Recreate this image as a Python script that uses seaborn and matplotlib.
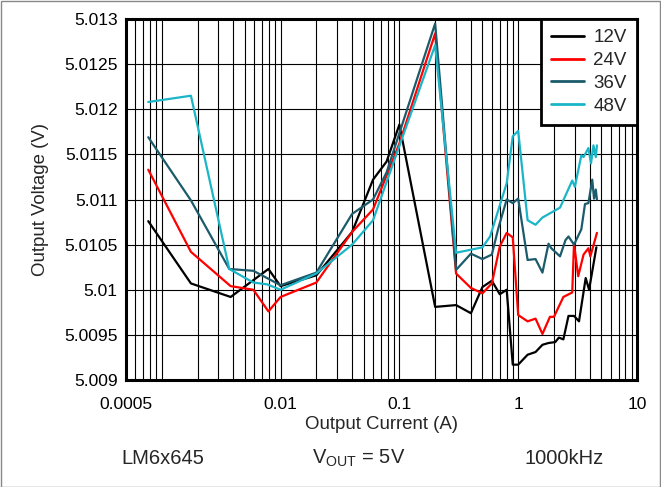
import pandas as pd
import matplotlib
matplotlib.use("Agg")
import matplotlib.pyplot as plt
import seaborn as sns
from matplotlib.ticker import FixedLocator, FuncFormatter, NullFormatter
from matplotlib.patches import Rectangle

# data (output current A, output voltage V)
x12 = [0.00077, 0.00176, 0.0038, 0.0079, 0.01, 0.02, 0.04, 0.06, 0.078, 0.1, 0.2, 0.3, 0.4, 0.5, 0.6, 0.7,
       0.8, 0.9, 1.0, 1.2, 1.4, 1.6, 1.8, 2.05, 2.2, 2.4, 2.65, 2.95, 3.25, 3.7, 3.95, 4.55]
v12 = [5.01076, 5.01007, 5.00992, 5.01023, 5.01004, 5.01016, 5.01064, 5.01122, 5.01142, 5.01183, 5.00981,
       5.00983, 5.00974, 5.01003, 5.0101, 5.00995, 5.01, 5.00917, 5.00917, 5.00928, 5.00931, 5.00939,
       5.00941, 5.00942, 5.00947, 5.00945, 5.00971, 5.00971, 5.00965, 5.01013, 5.01, 5.01047]

x24 = [0.00077, 0.00176, 0.0038, 0.0059, 0.0079, 0.01, 0.02, 0.04, 0.06, 0.1, 0.2, 0.3, 0.4, 0.5, 0.6, 0.7,
       0.8, 0.9, 1.0, 1.2, 1.4, 1.6, 1.85, 2.0, 2.4, 2.85, 2.95, 3.2, 3.55, 3.9, 4.05, 4.6]
v24 = [5.01133, 5.01042, 5.01004, 5.01000, 5.00976, 5.00992, 5.01008, 5.01064, 5.01089, 5.01162, 5.01284,
       5.01018, 5.01002, 5.00996, 5.01007, 5.01048, 5.01063, 5.01058, 5.00972, 5.00965, 5.00968, 5.00951,
       5.0097, 5.0097, 5.00992, 5.00997, 5.01051, 5.01015, 5.01039, 5.01046, 5.01037, 5.01063]

x36 = [0.00077, 0.00176, 0.0037, 0.0059, 0.01, 0.02, 0.04, 0.06, 0.078, 0.2, 0.3, 0.4, 0.5, 0.6, 0.68, 0.8,
       0.9, 1.0, 1.2, 1.4, 1.6, 1.8, 1.9, 2.25, 2.5, 2.65, 2.95, 3.4, 3.65, 3.9, 4.2, 4.35, 4.5, 4.6]
v36 = [5.01169, 5.01099, 5.01023, 5.01021, 5.01005, 5.01019, 5.01084, 5.0110, 5.0113, 5.01295, 5.01022,
       5.0104, 5.01034, 5.01039, 5.01068, 5.011, 5.01096, 5.01101, 5.01033, 5.01034, 5.01019, 5.01051,
       5.01046, 5.01037, 5.01055, 5.01059, 5.0105, 5.01067, 5.01095, 5.01096, 5.01122, 5.01101, 5.01111, 5.011]

x48 = [0.00077, 0.00176, 0.0037, 0.0059, 0.0077, 0.01, 0.02, 0.04, 0.06, 0.2, 0.3, 0.5, 0.58, 0.8, 0.9, 1.0,
       1.2, 1.4, 1.6, 2.25, 2.85, 3.0, 3.4, 3.55, 3.9, 4.1, 4.3, 4.5, 4.6]
v48 = [5.01208, 5.01215, 5.01023, 5.01008, 5.01006, 5.01000, 5.01018, 5.0105, 5.01077, 5.01271, 5.01041,
       5.01047, 5.01059, 5.01118, 5.0117, 5.01176, 5.01077, 5.01072, 5.0108, 5.01091, 5.01121, 5.01114,
       5.01149, 5.01147, 5.01157, 5.0114, 5.0116, 5.01147, 5.0116]

series = ["12V", "24V", "36V", "48V"]
colors = {"12V": "#000000", "24V": "#FF0000", "36V": "#1B5B6B", "48V": "#1BB5C8"}
x_ticks = [0.0005, 0.01, 0.1, 1, 10]
x_tick_labels = ["0.0005", "0.01", "0.1", "1", "10"]
y_ticks = [5.009, 5.0095, 5.01, 5.0105, 5.011, 5.0115, 5.012, 5.0125, 5.013]

frames = []
for name, xs, vs in zip(series, [x12, x24, x36, x48], [v12, v24, v36, v48]):
    frames.append(pd.DataFrame({"current": xs, "voltage": vs, "Vin": name}))
df = pd.concat(frames, ignore_index=True)

sns.set_style("white")
plt.rcParams['font.family'] = ['Liberation Sans', 'DejaVu Sans']
plt.rcParams['mathtext.fontset'] = 'custom'
plt.rcParams['mathtext.rm'] = 'Liberation Sans'

fig = plt.figure(figsize=(6.61, 4.87), dpi=100)
ax = fig.add_axes([126 / 661, 1 - 380 / 487, (637 - 126) / 661, (380 - 19) / 487])

sns.lineplot(data=df, x="current", y="voltage", hue="Vin", palette=colors, sort=False,
             estimator=None, linewidth=1.6, ax=ax)

ax.set_xscale("log")
ax.set_xlim(0.0005, 10)
ax.set_ylim(5.009, 5.013)

# grid: every log subdivision vertically, every 0.0005 horizontally
minor = []
for dec in [0.0001, 0.001, 0.01, 0.1, 1]:
    for k in range(2, 10):
        v = dec * k
        if 0.00055 < v < 10:
            minor.append(v)
ax.xaxis.set_major_locator(FixedLocator(x_ticks))
ax.xaxis.set_major_formatter(FuncFormatter(lambda v, p: x_tick_labels[x_ticks.index(v)] if v in x_ticks else ""))
ax.xaxis.set_minor_locator(FixedLocator(minor + [0.001]))
ax.xaxis.set_minor_formatter(NullFormatter())
ax.yaxis.set_major_locator(FixedLocator(y_ticks))
ax.yaxis.set_major_formatter(FuncFormatter(lambda v, p: "%g" % round(v, 4)))
ax.grid(True, which="both", axis="x", color="black", linewidth=0.8)
ax.grid(True, which="major", axis="y", color="black", linewidth=0.8)
ax.tick_params(which="both", length=0, labelsize=12.6, colors="black")
ax.tick_params(axis="x", pad=12)
ax.tick_params(axis="y", pad=6)

for s in ax.spines.values():
    s.set_linewidth(2.2)
    s.set_color("black")

ax.set_xlabel("Output Current (A)", fontsize=13.4, labelpad=3)
ax.set_ylabel("Output Voltage (V)", fontsize=13.4, labelpad=11)

leg = ax.legend(loc="upper right", borderaxespad=0, fancybox=False, framealpha=1,
                fontsize=13.5, handlelength=1.75, labelspacing=0.3, borderpad=0.55, handletextpad=0.5)
leg.get_frame().set_edgecolor("black")
leg.get_frame().set_linewidth(2)
for line in leg.get_lines():
    line.set_linewidth(2)

base = 1 - 464 / 487
fig.text(163 / 661, base, "LM6x645", ha="center", va="baseline", fontsize=14.5)
fig.text(359 / 661, base, r"V$_{\mathregular{OUT}}$ = 5V", ha="center", va="baseline", fontsize=14.5)
fig.text(564 / 661, base, "1000kHz", ha="center", va="baseline", fontsize=14.5)

fig.patches.append(Rectangle((0.001, 0.001), 0.997, 0.997, transform=fig.transFigure,
                             fill=False, edgecolor="#888888", linewidth=1))

fig.savefig("out.png", dpi=100)
